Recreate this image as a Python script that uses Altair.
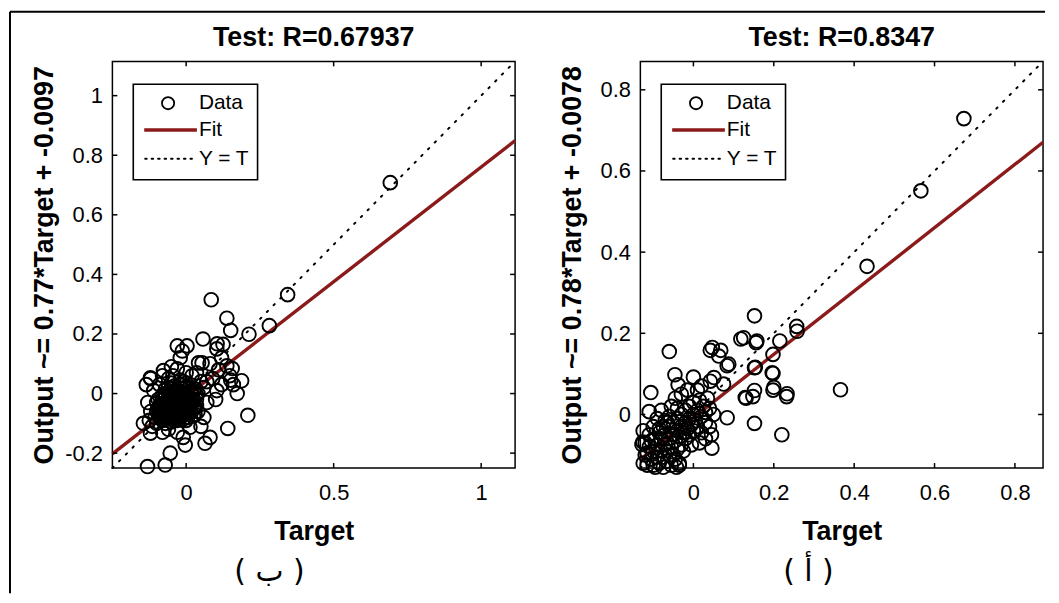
import altair as alt
import pandas as pd

FONT = "Liberation Sans"
ARABIC_FONT = "DejaVu Sans"

# ---------------- panel (ب) : Test R=0.67937 ----------------
left_title = "Test: R=0.67937"
left_ytitle = "Output ~= 0.77*Target + -0.0097"
left_slope, left_icpt = 0.77, -0.0097
left_lim = [-0.25, 1.115]
left_xticks = [0, 0.5, 1]
left_yticks = [-0.2, 0, 0.2, 0.4, 0.6, 0.8, 1]
left_tag = "( ب )"

left_target = [
    -0.10, -0.09, -0.09, -0.08, -0.08, -0.08, -0.075, -0.07, -0.07, -0.07, -0.07, -0.065,
    -0.06, -0.06, -0.06, -0.06, -0.055, -0.05, -0.05, -0.05, -0.05, -0.05, -0.045, -0.04,
    -0.04, -0.04, -0.04, -0.04, -0.035, -0.035, -0.03, -0.03, -0.03, -0.03, -0.025, -0.02,
    -0.02, -0.02, -0.02, -0.015, -0.01, -0.01, -0.01, -0.01, -0.005, 0.00, 0.00, 0.00,
    0.00, 0.005, 0.01, 0.01, 0.01, 0.015, 0.02, 0.02, 0.025, 0.03, 0.03, 0.035,
    0.04, 0.04, -0.095, -0.085, -0.065, -0.045, -0.035, -0.025, -0.015, -0.005, 0.005, 0.015,
    -0.055, -0.075, -0.085, -0.10, -0.105, -0.045, -0.025, 0.025, -0.09, -0.065, -0.035, -0.015,
    0.005, 0.025, -0.055, -0.03, -0.075, -0.01,
    -0.085, -0.075, -0.065, -0.065, -0.055, -0.055, -0.045, -0.045, -0.035, -0.035, -0.025, -0.025,
    -0.015, -0.015, -0.005, -0.005, 0.005, 0.005, 0.015, 0.015, 0.025, 0.025, 0.035, 0.035,
    -0.095, -0.08, -0.07, -0.05, -0.02, 0.00,
    -0.12, -0.125, -0.115, -0.13, -0.12, -0.09, -0.08, -0.06, -0.05, -0.03, -0.03, -0.013,
    0.003, -0.02, 0.00, 0.02, 0.05, 0.054, 0.06, 0.07, 0.06, 0.05, 0.03, 0.013,
    -0.01, -0.003, -0.03, -0.054, -0.06, -0.08, -0.10, -0.121, -0.145, -0.071, -0.131, -0.077,
    -0.121, -0.135, -0.11, -0.045,
    0.692, 0.344, 0.085, 0.282, 0.213, 0.138, 0.151, 0.105, 0.125, 0.057, 0.104, 0.081,
    0.138, 0.148, 0.188, 0.173, 0.151, 0.104, 0.156, 0.209, 0.141, 0.081, 0.064, 0.042,
    0.09, 0.12, 0.16, 0.10, 0.12, 0.035, 0.07, 0.11,
]
left_output = [
    -0.06, -0.08, -0.04, -0.09, -0.06, -0.02, -0.045, -0.10, -0.07, -0.03, 0.00, -0.055,
    -0.085, -0.04, -0.015, 0.02, -0.065, -0.095, -0.075, -0.05, -0.025, 0.005, -0.04, -0.085,
    -0.06, -0.03, -0.01, 0.025, -0.07, -0.045, -0.09, -0.055, -0.02, 0.01, -0.035, -0.075,
    -0.05, -0.01, 0.03, -0.06, -0.085, -0.04, -0.02, 0.015, -0.065, -0.05, -0.03, 0.00,
    0.035, -0.08, -0.04, -0.015, 0.02, -0.06, -0.03, 0.00, -0.075, -0.045, 0.015, -0.02,
    -0.06, 0.00, -0.02, -0.07, -0.08, -0.07, -0.005, -0.065, -0.03, -0.045, -0.01, -0.035,
    -0.035, -0.015, -0.045, -0.03, -0.08, -0.015, 0.00, -0.05, -0.055, -0.025, -0.08, -0.005,
    -0.055, -0.02, -0.005, -0.065, -0.085, 0.04,
    -0.035, -0.075, -0.025, -0.065, -0.005, -0.085, -0.055, -0.08, -0.025, 0.01, -0.08, -0.02,
    -0.075, 0.00, -0.01, 0.02, -0.055, -0.03, -0.045, 0.005, -0.025, 0.01, -0.04, -0.005,
    -0.05, -0.005, 0.015, 0.035, 0.045, -0.09,
    -0.06, -0.09, -0.11, -0.03, 0.05, 0.03, 0.06, 0.05, 0.09, 0.083, 0.16, 0.143,
    0.16, 0.12, 0.07, 0.06, 0.04, 0.103, 0.02, -0.03, -0.08, -0.11, -0.07, -0.113,
    -0.147, -0.173, -0.13, -0.20, -0.12, -0.13, -0.10, -0.133, -0.10, -0.24, -0.245, 0.077,
    0.053, 0.03, 0.01, 0.06,
    0.708, 0.332, 0.315, 0.228, 0.199, 0.253, 0.212, 0.167, 0.165, 0.183, 0.150, 0.100,
    0.093, 0.060, 0.043, 0.000, 0.045, 0.010, 0.084, -0.073, -0.117, -0.147, -0.167, 0.103,
    0.050, 0.120, 0.030, -0.020, 0.030, 0.070, 0.040, 0.080,
]

# ---------------- panel (أ) : Test R=0.8347 ----------------
right_title = "Test: R=0.8347"
right_ytitle = "Output ~= 0.78*Target + -0.0078"
right_slope, right_icpt = 0.78, -0.0078
right_lim = [-0.132, 0.870]
right_xticks = [0, 0.2, 0.4, 0.6, 0.8]
right_yticks = [0, 0.2, 0.4, 0.6, 0.8]
right_tag = "( أ )"

right_target = [
    -0.125, -0.12, -0.115, -0.11, -0.105, -0.10, -0.10, -0.095, -0.09, -0.09, -0.085, -0.085,
    -0.08, -0.08, -0.075, -0.075, -0.07, -0.07, -0.065, -0.065, -0.06, -0.06, -0.06, -0.055,
    -0.05, -0.05, -0.05, -0.045, -0.04, -0.04, -0.04, -0.04, -0.035, -0.03, -0.03, -0.03,
    -0.025, -0.02, -0.02, -0.02, -0.015, -0.01, -0.01, -0.01, -0.005, 0.00, 0.00, 0.00,
    0.005, 0.01, 0.01, 0.015, 0.02, 0.02, 0.025, 0.03, 0.03, 0.035, 0.04, 0.04,
    0.045, 0.05, -0.11, -0.10, -0.09, -0.08, -0.07, -0.055, -0.045, -0.03, -0.015, 0.01,
    0.02, -0.12, -0.125, -0.06, -0.045, -0.025, -0.005, 0.015, 0.03, -0.095, -0.075, -0.055,
    -0.035, -0.115, -0.105, -0.085, -0.065,
    0.673, 0.566, 0.432, 0.366, 0.257, 0.258, 0.215, 0.198, 0.152, 0.156, 0.118, 0.152,
    0.198, 0.198, 0.232, 0.152, 0.148, 0.131, 0.152, 0.220, 0.084, 0.068, 0.042, 0.063,
    -0.060, -0.046, -0.038, 0.000, 0.042, 0.084, -0.106, -0.110, 0.046, -0.042, -0.128, 0.088,
    0.125, 0.158, 0.154, 0.196, 0.129, 0.200, 0.233, 0.051, 0.075, 0.047, -0.126, -0.035,
]
right_output = [
    -0.12, -0.10, -0.125, -0.08, -0.11, -0.125, -0.09, -0.06, -0.105, -0.075, -0.12, -0.045,
    -0.09, -0.06, -0.105, -0.03, -0.075, -0.05, -0.115, -0.09, -0.06, -0.03, -0.005, -0.08,
    -0.10, -0.05, -0.02, -0.065, -0.085, -0.04, -0.01, 0.015, -0.055, -0.075, -0.03, 0.00,
    -0.045, -0.06, -0.02, 0.01, -0.035, -0.05, -0.01, 0.02, -0.025, -0.04, 0.00, 0.03,
    -0.015, -0.03, 0.01, 0.035, -0.005, -0.045, 0.02, -0.02, 0.005, 0.04, -0.03, 0.015,
    -0.05, 0.00, -0.05, -0.03, -0.01, 0.01, -0.015, 0.02, 0.04, 0.05, 0.06, 0.06,
    0.07, -0.07, -0.04, -0.10, -0.11, -0.09, -0.075, -0.07, -0.06, -0.13, -0.13, -0.125,
    -0.12, -0.095, -0.065, -0.035, -0.02,
    0.729, 0.551, 0.365, 0.061, 0.217, 0.205, 0.181, 0.148, 0.243, 0.177, 0.186, 0.115,
    0.101, 0.060, 0.044, 0.059, 0.044, 0.040, -0.022, -0.050, 0.120, 0.158, 0.158, 0.144,
    0.155, 0.098, 0.073, 0.092, 0.082, -0.008, 0.054, 0.007, -0.083, -0.130, -0.074, 0.124,
    0.189, 0.181, 0.116, 0.103, 0.042, 0.067, 0.051, 0.091, 0.075, 0.165, -0.068, -0.125,
]

legend_labels = ["Data", "Fit", "Y = T"]
FIT_COLOR = "#8b1a1a"
W, H = 405, 409
LABEL_EXPR = "replace(format(datum.value, '~g'), '\u2212', '-')"


def one_row():
    return pd.DataFrame({"k": [0]})


def panel(tx, oy, lim, slope, icpt, xticks, yticks, title, ytitle, tag, tag_x, frame=False):
    lo, hi = lim
    pts = pd.DataFrame({"Target": tx, "Output": oy})
    fit = pd.DataFrame({"Target": [lo, hi], "Output": [slope * lo + icpt, slope * hi + icpt]})
    ident = pd.DataFrame({"Target": [lo, hi], "Output": [lo, hi]})
    xs = alt.Scale(domain=[lo, hi], nice=False, zero=False)
    ys = alt.Scale(domain=[lo, hi], nice=False, zero=False)
    xax = alt.Axis(values=xticks, labelExpr=LABEL_EXPR, title="Target", ticks=False, domain=False,
                   grid=False, labelFontSize=22, labelFont=FONT, labelColor="black",
                   titleFontSize=27, titleFont=FONT, titleFontWeight="bold", titleColor="black",
                   labelPadding=15, titlePadding=14, minExtent=37, maxExtent=37,
                   labelFlush=False, labelOverlap=False)
    yax = alt.Axis(values=yticks, labelExpr=LABEL_EXPR, title=ytitle, ticks=False, domain=False,
                   grid=False, labelFontSize=22, labelFont=FONT, labelColor="black",
                   titleFontSize=27, titleFont=FONT, titleFontWeight="bold", titleColor="black",
                   labelPadding=10, titlePadding=6, minExtent=48, maxExtent=48,
                   labelFlush=False, labelOverlap=False)
    X = alt.X("Target:Q", scale=xs, axis=xax)
    Y = alt.Y("Output:Q", scale=ys, axis=yax)

    ident_line = alt.Chart(ident).mark_line(color="black", strokeDash=[1.6, 8], strokeWidth=2,
                                           strokeCap="round").encode(x=X, y=Y)
    fit_line = alt.Chart(fit).mark_line(color=FIT_COLOR, strokeWidth=3.4).encode(x=X, y=Y)
    dots = alt.Chart(pts).mark_point(shape="circle", filled=False, color="black", size=190,
                                     strokeWidth=1.9, opacity=1, clip=False).encode(x=X, y=Y)

    xt = pd.DataFrame({"Target": xticks})
    yt = pd.DataFrame({"Output": yticks})
    tk_b = alt.Chart(xt).mark_rule(color="black", strokeWidth=1.5).encode(
        x=alt.X("Target:Q", scale=xs), y=alt.value(H), y2=alt.value(H - 5))
    tk_t = alt.Chart(xt).mark_rule(color="black", strokeWidth=1.5).encode(
        x=alt.X("Target:Q", scale=xs), y=alt.value(0), y2=alt.value(5))
    tk_l = alt.Chart(yt).mark_rule(color="black", strokeWidth=1.5).encode(
        y=alt.Y("Output:Q", scale=ys), x=alt.value(0), x2=alt.value(5))
    tk_r = alt.Chart(yt).mark_rule(color="black", strokeWidth=1.5).encode(
        y=alt.Y("Output:Q", scale=ys), x=alt.value(W - 5), x2=alt.value(W))

    # legend box
    lg_box = alt.Chart(one_row()).mark_rect(fill="white", stroke="black", strokeWidth=1.6).encode(
        x=alt.value(21), x2=alt.value(146), y=alt.value(23), y2=alt.value(119))
    lg_pt = alt.Chart(one_row()).mark_point(shape="circle", filled=False, color="black", size=150,
                                            strokeWidth=1.8, opacity=1).encode(
        x=alt.value(56), y=alt.value(42))
    lg_fit = alt.Chart(one_row()).mark_rule(color=FIT_COLOR, strokeWidth=3.5).encode(
        x=alt.value(32), x2=alt.value(85), y=alt.value(69))
    lg_id = alt.Chart(one_row()).mark_rule(color="black", strokeWidth=2, strokeDash=[1.5, 5],
                                           strokeCap="round").encode(
        x=alt.value(33), x2=alt.value(85), y=alt.value(98))
    lg_txt = alt.Chart(pd.DataFrame({"lab": legend_labels, "row": [42, 69, 98]})).mark_text(
        align="left", baseline="middle", font=FONT, fontSize=21, color="black").encode(
        text="lab:N", x=alt.value(87), y=alt.Y("row:Q", scale=None))

    title_txt = alt.Chart(pd.DataFrame({"t": [title]})).mark_text(
        align="center", baseline="middle", font=FONT, fontSize=27, fontWeight="bold",
        color="black").encode(text="t:N", x=alt.value(W / 2), y=alt.value(-23))

    tag_txt = alt.Chart(pd.DataFrame({"t": [tag]})).mark_text(
        align="center", baseline="middle", font=ARABIC_FONT, fontSize=30, color="black").encode(
        text="t:N", x=alt.value(tag_x), y=alt.value(514))

    layers = [ident_line, fit_line, dots, tk_b, tk_t, tk_l, tk_r, lg_box, lg_pt, lg_fit, lg_id,
              lg_txt, title_txt, tag_txt]
    if frame:
        fr_l = alt.Chart(one_row()).mark_rule(color="black", strokeWidth=2).encode(
            x=alt.value(-103), y=alt.value(-50), y2=alt.value(535))
        fr_t = alt.Chart(one_row()).mark_rule(color="black", strokeWidth=2).encode(
            x=alt.value(-103), x2=alt.value(938), y=alt.value(-50))
        layers += [fr_l, fr_t]

    return alt.layer(*layers).properties(width=W, height=H)


left = panel(left_target, left_output, left_lim, left_slope, left_icpt, left_xticks,
             left_yticks, left_title, left_ytitle, left_tag, 158, frame=True)
right = panel(right_target, right_output, right_lim, right_slope, right_icpt, right_xticks,
              right_yticks, right_title, right_ytitle, right_tag, 169)

chart = alt.hconcat(left, right, spacing=126, bounds="flush").properties(
    padding=0, background="white"
).configure_view(stroke="black", strokeWidth=1.5)

chart.save("out.html", embed_options={"renderer": "svg", "actions": False})
